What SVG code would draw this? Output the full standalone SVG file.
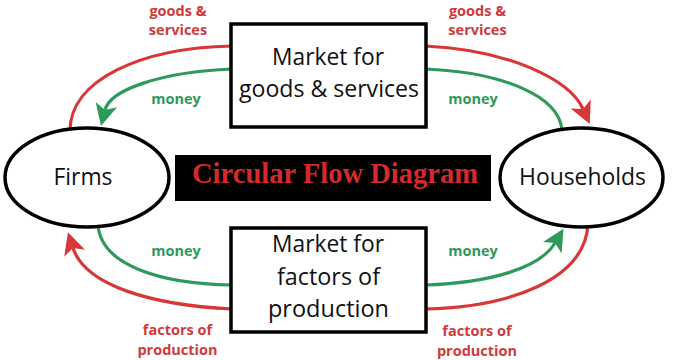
<svg xmlns="http://www.w3.org/2000/svg" width="673" height="360" viewBox="0 0 673 360">
<style>
.box{fill:#fff;stroke:#000;stroke-width:3.5}
.node{fill:#fff;stroke:#000;stroke-width:3.5}
.t{font-family:"Open Sans","Liberation Sans",sans-serif;font-size:24px;fill:#111;text-anchor:middle}
.lab{font-family:"Open Sans","Liberation Sans",sans-serif;font-size:14.5px;font-weight:bold;text-anchor:middle}
.r{fill:#cf3a3c}
.g{fill:#2e9a5a}
.red{fill:none;stroke:#d8373a;stroke-width:3.2}
.green{fill:none;stroke:#2e9a5a;stroke-width:3.2}
.title{font-family:"Liberation Serif","Times New Roman",serif;font-weight:bold;font-size:29px;fill:#d42a2a;text-anchor:middle}
</style>
<defs>
<marker id="ar" viewBox="0 0 20 20" markerWidth="22" markerHeight="22" refX="5" refY="10" orient="auto" markerUnits="userSpaceOnUse">
<path d="M0,0 L20,10 L0,20 L5,10 Z" fill="#d8373a"/>
</marker>
<marker id="ag" viewBox="0 0 20 20" markerWidth="22" markerHeight="22" refX="5" refY="10" orient="auto" markerUnits="userSpaceOnUse">
<path d="M0,0 L20,10 L0,20 L5,10 Z" fill="#2e9a5a"/>
</marker>
</defs>
<rect width="673" height="360" fill="#fff"/>
<g id="connectors">
<path class="red" d="M232,46 C140,48 70,80 70,131"/>
<path class="green" d="M232,69 C160,72 110,90 105,110" marker-end="url(#ag)"/>
<path class="red" d="M425,46 C510,50 570,80 583,109" marker-end="url(#ar)"/>
<path class="green" d="M425,69 C500,72 560,95 562,131"/>
<path class="green" d="M98,224 C100,265 160,284 232,285"/>
<path class="red" d="M232,309 C150,305 85,285 73,248" marker-end="url(#ar)"/>
<path class="green" d="M425,285 C490,283 540,268 555,243" marker-end="url(#ag)"/>
<path class="red" d="M588,224 C585,280 510,307 425,309"/>
</g>
<g id="market-goods">
<rect class="box" x="231" y="24" width="195" height="103"/>
<text class="t" x="328" y="65" textLength="112" lengthAdjust="spacingAndGlyphs">Market for</text>
<text class="t" x="329" y="97" textLength="180" lengthAdjust="spacingAndGlyphs">goods &amp; services</text>
</g>
<g id="market-factors">
<rect class="box" x="231" y="228" width="195" height="104"/>
<text class="t" x="328" y="252" textLength="112" lengthAdjust="spacingAndGlyphs">Market for</text>
<text class="t" x="328.5" y="285" textLength="103" lengthAdjust="spacingAndGlyphs">factors of</text>
<text class="t" x="328.5" y="317" textLength="121" lengthAdjust="spacingAndGlyphs">production</text>
</g>
<g id="firms">
<ellipse class="node" cx="87" cy="177.5" rx="82" ry="49.5"/>
<text class="t" x="83" y="185" textLength="59" lengthAdjust="spacingAndGlyphs">Firms</text>
</g>
<g id="households">
<ellipse class="node" cx="581.5" cy="177.5" rx="81.5" ry="49.5"/>
<text class="t" x="582.5" y="185" textLength="127" lengthAdjust="spacingAndGlyphs">Households</text>
</g>
<g id="title">
<rect x="175" y="155" width="316" height="46" fill="#000"/>
<text class="title" x="335" y="183" textLength="286" lengthAdjust="spacingAndGlyphs">Circular Flow Diagram</text>
</g>
<g id="labels">
<text class="lab r" x="178" y="15.5">goods &amp;</text>
<text class="lab r" x="178" y="35">services</text>
<text class="lab r" x="477.5" y="15.5">goods &amp;</text>
<text class="lab r" x="477.5" y="35">services</text>
<text class="lab g" x="176" y="104">money</text>
<text class="lab g" x="473" y="104">money</text>
<text class="lab g" x="176" y="256">money</text>
<text class="lab g" x="473" y="256">money</text>
<text class="lab r" x="177.5" y="335">factors of</text>
<text class="lab r" x="177.5" y="355">production</text>
<text class="lab r" x="477" y="336">factors of</text>
<text class="lab r" x="477" y="356">production</text>
</g>
</svg>
